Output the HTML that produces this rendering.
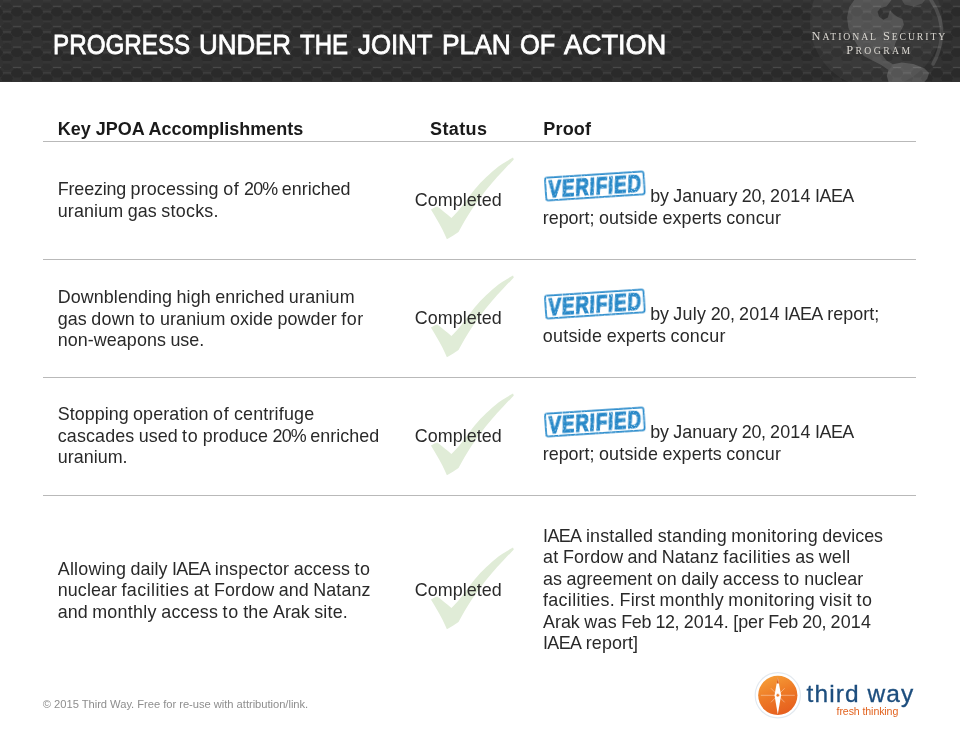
<!DOCTYPE html>
<html lang="en">
<head>
<meta charset="utf-8">
<title>Progress Under the Joint Plan of Action</title>
<style>
html,body{margin:0;padding:0;background:#fff;}
body{width:960px;height:741px;position:relative;overflow:hidden;font-family:"Liberation Sans",sans-serif;color:#222;}
.hdr{position:absolute;left:0;top:0;width:960px;height:82px;background:#2d2d2d;overflow:hidden;}
.hdr svg{position:absolute;left:0;top:0;}
.title{position:absolute;left:0;top:30.4px;font-size:28.2px;line-height:1;color:#fff;white-space:nowrap;-webkit-text-stroke:0.8px #fff;}
.title span{display:inline-block;white-space:pre;transform-origin:0 0;}
.nsp{position:absolute;color:#d9d6d0;font-family:"Liberation Serif",serif;white-space:nowrap;line-height:1;}
.l{position:absolute;white-space:nowrap;line-height:1;font-size:17.9px;color:#292929;}
.l.w span{display:inline-block;white-space:pre;}
.l.h{font-size:18px;font-weight:bold;color:#1a1a1a;}
.rule{position:absolute;left:43.2px;width:872.8px;height:1.4px;background:#b9b9b9;}
.check{position:absolute;left:0;width:960px;height:120px;}
.stamp{position:absolute;overflow:visible;}
.stamp text{font-family:"Liberation Sans",sans-serif;font-weight:bold;font-size:24.4px;fill:#2788c8;stroke:#2788c8;stroke-width:1.1px;letter-spacing:1.1px;}
.foot{position:absolute;left:42.8px;top:699.3px;font-size:11.2px;line-height:1;color:#8e8e8e;white-space:nowrap;letter-spacing:-0.035px;}
.tw{position:absolute;left:806.6px;top:681.8px;font-size:24.5px;line-height:1;color:#1d4e7e;white-space:nowrap;letter-spacing:1.07px;-webkit-text-stroke:0.3px #1d4e7e;}
.ft{position:absolute;left:836.6px;top:705.6px;font-size:10.6px;line-height:1;color:#e2631f;white-space:nowrap;letter-spacing:-0.1px;}
.logo{position:absolute;left:750px;top:668px;}
</style>
</head>
<body>
<div class="hdr">
<svg width="960" height="82" viewBox="0 0 960 82">
<defs>
<pattern id="hx" width="20" height="20.4" patternUnits="userSpaceOnUse">
<rect width="20" height="20.4" fill="#323232"/>
<ellipse cx="17" cy="12" rx="6" ry="4.6" fill="#2b2b2b"/>
<ellipse cx="-3" cy="12" rx="6" ry="4.6" fill="#2b2b2b"/>
<ellipse cx="7" cy="17.2" rx="6" ry="4.4" fill="#2b2b2b"/>
<ellipse cx="7" cy="5.6" rx="5" ry="3.4" fill="#2e2e2e"/>
<rect x="13" y="5.7" width="8" height="1" fill="#4b4b4b"/>
<rect x="-7" y="5.7" width="8" height="1" fill="#4b4b4b"/>
<rect x="3" y="11.1" width="8" height="1" fill="#464646"/>
<rect x="3" y="0.4" width="8" height="0.9" fill="#3d3d3d"/>
</pattern>
<filter id="gb" x="-10%" y="-10%" width="120%" height="120%"><feGaussianBlur stdDeviation="0.7"/></filter>
<filter id="bl" x="0" y="0" width="100%" height="100%" filterUnits="objectBoundingBox"><feGaussianBlur stdDeviation="0.7"/></filter>
</defs>
<rect x="-10" y="-10" width="980" height="110" fill="url(#hx)" filter="url(#bl)"/>
<g filter="url(#gb)">
<circle cx="876" cy="22" r="66" fill="#ffffff" fill-opacity="0.04"/>
<path d="M931 0 Q943 18 941.5 36 Q940 52 933 64" fill="none" stroke="#fff" stroke-opacity="0.13" stroke-width="3.5" stroke-linecap="round"/>
<polygon points="854.3,0.0 849.2,7.3 847.0,17.5 848.4,27.7 852.8,37.2 858.6,47.4 863.8,56.1 874.0,61.3 881.3,64.9 888.5,70.0 892.9,64.2 886.4,60.5 882.0,54.7 879.1,50.3 885.6,48.1 890.7,49.6 892.9,53.2 895.1,43.8 899.5,33.5 903.9,24.8 902.4,19.0 897.3,16.8 893.6,13.9 890.0,10.2 887.8,17.5 883.4,19.7 879.1,16.8 877.6,11.7 880.5,8.0 886.4,6.6 891.5,0.0" fill="#fff" fill-opacity="0.14"/>
<polygon points="888.5,70.0 892.9,64.2 901.7,62.4 913.3,63.9 924.3,68.3 929.1,72.9 927.2,78.8 924.3,82.0 888.5,82.0 886.8,75.8" fill="#fff" fill-opacity="0.17"/>
<polygon points="901.7,0.0 904.6,4.4 913.3,6.6 922.1,3.6 925.0,0.0" fill="#fff" fill-opacity="0.11"/>
</g>
</svg>
<div class="title" style="left:53.03px"><span style="width:145.94px;transform:scaleX(0.8588)">PROGRESS </span><span style="width:101.10px;transform:scaleX(0.9182)">UNDER </span><span style="width:57.85px;transform:scaleX(0.8518)">THE </span><span style="width:84.60px;transform:scaleX(0.9147)">JOINT </span><span style="width:77.09px;transform:scaleX(0.9356)">PLAN </span><span style="width:44.55px;transform:scaleX(0.9025)">OF </span><span style="width:120.00px;transform:scaleX(0.9593)">ACTION</span></div>
<div class="nsp" id="nsp1" style="left:811.6px;top:29.9px;font-size:12.4px;letter-spacing:1.92px;">N<span style="font-size:9.7px">ATIONAL</span> S<span style="font-size:9.7px">ECURITY</span></div>
<div class="nsp" id="nsp2" style="left:846.2px;top:44.1px;font-size:12.4px;letter-spacing:2.4px;">P<span style="font-size:9.7px">ROGRAM</span></div>
</div>
<div class="rule" style="top:140.6px"></div>
<div class="rule" style="top:258.6px"></div>
<div class="rule" style="top:376.6px"></div>
<div class="rule" style="top:494.6px"></div>
<svg class="check" style="top:0;height:741px" width="960" height="741" viewBox="0 0 960 741">
<defs><filter id="soft" x="-10%" y="-10%" width="120%" height="120%"><feGaussianBlur stdDeviation="0.45"/></filter><filter id="rough" x="-5%" y="-20%" width="110%" height="140%"><feTurbulence type="fractalNoise" baseFrequency="0.75" numOctaves="2" seed="7" result="n"/><feColorMatrix in="n" type="matrix" values="0 0 0 0 0  0 0 0 0 0  0 0 0 0 0  0 0 0 -3.2 2.92" result="m"/><feComposite in="SourceGraphic" in2="m" operator="in"/></filter></defs>
<path transform="translate(0,0)" d="M513.0 157.6 C509 160 505 162 502.1 164.1 C497 167.5 493 171 489.2 174.4 C485 178 481 182 477.7 185.9 C474 190 471 194 468.7 197.4 C465 202 462 206 459.7 209.0 C457 212.5 454 215.5 451.4 217.9 C447 214 442 210 437.3 206.4 C435 207 433 208.3 430.9 209.6 C433 213 435 216 436.7 219.2 C438.8 222.8 440.8 226.2 442.4 229.5 C444 232.8 445.6 236.2 446.9 239.3 C451 237 455 234.6 458.5 232.1 C460.5 228.6 462.4 225.2 464.2 221.8 C466.5 217.8 468.8 214 471.3 210.3 C474 206 477 201.6 480.3 197.4 C484 192.5 487.8 187.8 491.8 183.3 C495.5 179 499.3 174.7 503.3 170.5 C506.8 166.8 510.3 163.2 513.8 159.4 Z" fill="#e0ecd7" filter="url(#soft)"/>
<path transform="translate(0,118)" d="M513.0 157.6 C509 160 505 162 502.1 164.1 C497 167.5 493 171 489.2 174.4 C485 178 481 182 477.7 185.9 C474 190 471 194 468.7 197.4 C465 202 462 206 459.7 209.0 C457 212.5 454 215.5 451.4 217.9 C447 214 442 210 437.3 206.4 C435 207 433 208.3 430.9 209.6 C433 213 435 216 436.7 219.2 C438.8 222.8 440.8 226.2 442.4 229.5 C444 232.8 445.6 236.2 446.9 239.3 C451 237 455 234.6 458.5 232.1 C460.5 228.6 462.4 225.2 464.2 221.8 C466.5 217.8 468.8 214 471.3 210.3 C474 206 477 201.6 480.3 197.4 C484 192.5 487.8 187.8 491.8 183.3 C495.5 179 499.3 174.7 503.3 170.5 C506.8 166.8 510.3 163.2 513.8 159.4 Z" fill="#e0ecd7" filter="url(#soft)"/>
<path transform="translate(0,236)" d="M513.0 157.6 C509 160 505 162 502.1 164.1 C497 167.5 493 171 489.2 174.4 C485 178 481 182 477.7 185.9 C474 190 471 194 468.7 197.4 C465 202 462 206 459.7 209.0 C457 212.5 454 215.5 451.4 217.9 C447 214 442 210 437.3 206.4 C435 207 433 208.3 430.9 209.6 C433 213 435 216 436.7 219.2 C438.8 222.8 440.8 226.2 442.4 229.5 C444 232.8 445.6 236.2 446.9 239.3 C451 237 455 234.6 458.5 232.1 C460.5 228.6 462.4 225.2 464.2 221.8 C466.5 217.8 468.8 214 471.3 210.3 C474 206 477 201.6 480.3 197.4 C484 192.5 487.8 187.8 491.8 183.3 C495.5 179 499.3 174.7 503.3 170.5 C506.8 166.8 510.3 163.2 513.8 159.4 Z" fill="#e0ecd7" filter="url(#soft)"/>
<path transform="translate(0,390)" d="M513.0 157.6 C509 160 505 162 502.1 164.1 C497 167.5 493 171 489.2 174.4 C485 178 481 182 477.7 185.9 C474 190 471 194 468.7 197.4 C465 202 462 206 459.7 209.0 C457 212.5 454 215.5 451.4 217.9 C447 214 442 210 437.3 206.4 C435 207 433 208.3 430.9 209.6 C433 213 435 216 436.7 219.2 C438.8 222.8 440.8 226.2 442.4 229.5 C444 232.8 445.6 236.2 446.9 239.3 C451 237 455 234.6 458.5 232.1 C460.5 228.6 462.4 225.2 464.2 221.8 C466.5 217.8 468.8 214 471.3 210.3 C474 206 477 201.6 480.3 197.4 C484 192.5 487.8 187.8 491.8 183.3 C495.5 179 499.3 174.7 503.3 170.5 C506.8 166.8 510.3 163.2 513.8 159.4 Z" fill="#e0ecd7" filter="url(#soft)"/>
</svg>
<div class="l h" style="left:57.8px;top:120.1px;letter-spacing:-0.011px">Key JPOA Accomplishments</div>
<div class="l h" style="left:430.0px;top:120.1px;letter-spacing:0.377px">Status</div>
<div class="l h" style="left:543.2px;top:120.1px;letter-spacing:0.225px">Proof</div>
<div class="l w a" style="left:57.8px;top:181.3px"><span style="width:72.72px;letter-spacing:-0.167px">Freezing </span><span style="width:92.61px;letter-spacing:0.163px">processing </span><span style="width:20.92px;letter-spacing:0.777px">of </span><span style="width:37.77px;letter-spacing:-0.831px">20% </span><span style="width:68.79px;letter-spacing:0.018px">enriched</span></div>
<div class="l w a" style="left:57.8px;top:202.7px"><span style="width:69.92px;letter-spacing:0.121px">uranium </span><span style="width:33.47px;letter-spacing:0.057px">gas </span><span style="width:57.71px;letter-spacing:0.289px">stocks.</span></div>
<div class="l w a" style="left:57.8px;top:289.2px"><span style="width:118.69px;letter-spacing:0.070px">Downblending </span><span style="width:38.83px;letter-spacing:0.133px">high </span><span style="width:73.55px;letter-spacing:0.056px">enriched </span><span style="width:65.93px;letter-spacing:0.185px">uranium</span></div>
<div class="l w a" style="left:57.8px;top:310.6px"><span style="width:33.49px;letter-spacing:0.065px">gas </span><span style="width:48.13px;letter-spacing:0.227px">down </span><span style="width:20.52px;letter-spacing:0.579px">to </span><span style="width:69.98px;letter-spacing:0.129px">uranium </span><span style="width:47.51px;letter-spacing:0.058px">oxide </span><span style="width:63.86px;letter-spacing:0.122px">powder </span><span style="width:22.51px;letter-spacing:0.541px">for</span></div>
<div class="l w a" style="left:57.8px;top:332.0px"><span style="width:112.63px;letter-spacing:0.064px">non-weapons </span><span style="width:33.67px;letter-spacing:-0.039px">use.</span></div>
<div class="l w a" style="left:57.8px;top:406.3px"><span style="width:75.27px;letter-spacing:0.026px">Stopping </span><span style="width:80.04px;letter-spacing:0.112px">operation </span><span style="width:20.80px;letter-spacing:0.730px">of </span><span style="width:80.39px;letter-spacing:0.181px">centrifuge</span></div>
<div class="l w a" style="left:57.8px;top:427.7px"><span style="width:81.02px;letter-spacing:0.122px">cascades </span><span style="width:43.29px;letter-spacing:0.011px">used </span><span style="width:20.57px;letter-spacing:0.601px">to </span><span style="width:69.85px;letter-spacing:0.106px">produce </span><span style="width:37.80px;letter-spacing:-0.820px">20% </span><span style="width:68.86px;letter-spacing:0.027px">enriched</span></div>
<div class="l w a" style="left:57.8px;top:449.1px"><span style="width:69.80px;letter-spacing:0.024px">uranium.</span></div>
<div class="l w a" style="left:57.8px;top:561.0px"><span style="width:72.72px;letter-spacing:0.206px">Allowing </span><span style="width:41.43px;letter-spacing:0.039px">daily </span><span style="width:42.83px;letter-spacing:-0.595px">IAEA </span><span style="width:78.90px;letter-spacing:0.208px">inspector </span><span style="width:60.86px;letter-spacing:0.123px">access </span><span style="width:16.06px;letter-spacing:0.568px">to</span></div>
<div class="l w a" style="left:57.8px;top:582.4px"><span style="width:63.70px;letter-spacing:0.078px">nuclear </span><span style="width:72.29px;letter-spacing:0.419px">facilities </span><span style="width:20.18px;letter-spacing:0.397px">at </span><span style="width:64.88px;letter-spacing:0.126px">Fordow </span><span style="width:34.43px;letter-spacing:0.033px">and </span><span style="width:57.31px;letter-spacing:0.104px">Natanz</span></div>
<div class="l w a" style="left:57.8px;top:603.8px"><span style="width:34.36px;letter-spacing:0.014px">and </span><span style="width:69.17px;letter-spacing:0.294px">monthly </span><span style="width:61.25px;letter-spacing:0.183px">access </span><span style="width:20.62px;letter-spacing:0.620px">to </span><span style="width:29.81px;letter-spacing:0.160px">the </span><span style="width:41.24px;letter-spacing:-0.004px">Arak </span><span style="width:33.84px;letter-spacing:0.205px">site.</span></div>
<div class="l w s" style="left:414.8px;top:191.8px"><span style="width:87.00px;letter-spacing:0.052px">Completed</span></div>
<div class="l w s" style="left:414.8px;top:309.8px"><span style="width:87.00px;letter-spacing:0.052px">Completed</span></div>
<div class="l w s" style="left:414.8px;top:427.8px"><span style="width:87.00px;letter-spacing:0.052px">Completed</span></div>
<div class="l w s" style="left:414.8px;top:581.8px"><span style="width:87.00px;letter-spacing:0.052px">Completed</span></div>
<div class="l w p" style="left:650.2px;top:188.0px"><span style="width:23.12px;letter-spacing:-0.127px">by </span><span style="width:68.57px;letter-spacing:0.063px">January </span><span style="width:28.26px;letter-spacing:-0.360px">20, </span><span style="width:44.97px;letter-spacing:0.174px">2014 </span><span style="width:38.69px;letter-spacing:-0.524px">IAEA</span></div>
<div class="l w p" style="left:542.8px;top:209.7px"><span style="width:56.08px;letter-spacing:-0.012px">report; </span><span style="width:63.69px;letter-spacing:0.220px">outside </span><span style="width:63.63px;letter-spacing:0.073px">experts </span><span style="width:54.91px;letter-spacing:0.200px">concur</span></div>
<div class="l w p" style="left:650.2px;top:306.0px"><span style="width:23.16px;letter-spacing:-0.109px">by </span><span style="width:37.34px;letter-spacing:0.260px">July </span><span style="width:28.32px;letter-spacing:-0.344px">20, </span><span style="width:45.06px;letter-spacing:0.194px">2014 </span><span style="width:43.24px;letter-spacing:-0.505px">IAEA </span><span style="width:51.98px;letter-spacing:0.037px">report;</span></div>
<div class="l w p" style="left:542.8px;top:327.7px"><span style="width:63.89px;letter-spacing:0.247px">outside </span><span style="width:63.83px;letter-spacing:0.100px">experts </span><span style="width:55.08px;letter-spacing:0.229px">concur</span></div>
<div class="l w p" style="left:650.2px;top:424.0px"><span style="width:23.12px;letter-spacing:-0.127px">by </span><span style="width:68.57px;letter-spacing:0.063px">January </span><span style="width:28.26px;letter-spacing:-0.360px">20, </span><span style="width:44.97px;letter-spacing:0.174px">2014 </span><span style="width:38.69px;letter-spacing:-0.524px">IAEA</span></div>
<div class="l w p" style="left:542.8px;top:445.7px"><span style="width:56.08px;letter-spacing:-0.012px">report; </span><span style="width:63.69px;letter-spacing:0.220px">outside </span><span style="width:63.63px;letter-spacing:0.073px">experts </span><span style="width:54.91px;letter-spacing:0.200px">concur</span></div>
<div class="l w p" style="left:543.0px;top:527.7px"><span style="width:42.89px;letter-spacing:-0.583px">IAEA </span><span style="width:71.83px;letter-spacing:0.195px">installed </span><span style="width:73.58px;letter-spacing:0.188px">standing </span><span style="width:91.05px;letter-spacing:0.308px">monitoring </span><span style="width:60.76px;letter-spacing:0.012px">devices</span></div>
<div class="l w p" style="left:543.0px;top:549.2px"><span style="width:20.08px;letter-spacing:0.355px">at </span><span style="width:64.54px;letter-spacing:0.073px">Fordow </span><span style="width:34.25px;letter-spacing:-0.020px">and </span><span style="width:61.45px;letter-spacing:0.053px">Natanz </span><span style="width:71.91px;letter-spacing:0.382px">facilities </span><span style="width:23.47px;letter-spacing:0.059px">as </span><span style="width:31.71px;letter-spacing:0.221px">well</span></div>
<div class="l w p" style="left:543.0px;top:570.7px"><span style="width:23.45px;letter-spacing:0.050px">as </span><span style="width:90.32px;letter-spacing:0.038px">agreement </span><span style="width:24.57px;letter-spacing:0.110px">on </span><span style="width:41.51px;letter-spacing:0.054px">daily </span><span style="width:60.98px;letter-spacing:0.141px">access </span><span style="width:20.53px;letter-spacing:0.584px">to </span><span style="width:58.86px;letter-spacing:0.024px">nuclear</span></div>
<div class="l w p" style="left:543.0px;top:592.2px"><span style="width:76.59px;letter-spacing:0.322px">facilities. </span><span style="width:39.90px;letter-spacing:0.136px">First </span><span style="width:68.90px;letter-spacing:0.257px">monthly </span><span style="width:91.15px;letter-spacing:0.318px">monitoring </span><span style="width:36.96px;letter-spacing:0.341px">visit </span><span style="width:16.10px;letter-spacing:0.587px">to</span></div>
<div class="l w p" style="left:543.0px;top:613.7px"><span style="width:41.25px;letter-spacing:-0.002px">Arak </span><span style="width:37.09px;letter-spacing:0.266px">was </span><span style="width:34.08px;letter-spacing:-0.409px">Feb </span><span style="width:28.23px;letter-spacing:-0.367px">12, </span><span style="width:49.68px;letter-spacing:0.087px">2014. </span><span style="width:34.99px;letter-spacing:-0.078px">[per </span><span style="width:34.08px;letter-spacing:-0.409px">Feb </span><span style="width:28.23px;letter-spacing:-0.367px">20, </span><span style="width:40.47px;letter-spacing:0.165px">2014</span></div>
<div class="l w p" style="left:543.0px;top:635.2px"><span style="width:42.80px;letter-spacing:-0.603px">IAEA </span><span style="width:52.40px;letter-spacing:0.098px">report]</span></div>
<svg class="stamp" style="left:530px;top:160px" width="130" height="55" viewBox="530 160 130 55"><g transform="translate(544.9,177.7) rotate(-3.7)" filter="url(#rough)"><rect x="0" y="0" width="98.6" height="22.8" rx="2" fill="none" stroke="#2b8ccc" stroke-width="1.75"/><text transform="translate(48.9,20.1) scale(0.772,1) skewX(-7)" text-anchor="middle" x="0" y="0">VERIFIED</text></g></svg>
<svg class="stamp" style="left:530px;top:278px" width="130" height="55" viewBox="530 160 130 55"><g transform="translate(544.9,177.7) rotate(-3.7)" filter="url(#rough)"><rect x="0" y="0" width="98.6" height="22.8" rx="2" fill="none" stroke="#2b8ccc" stroke-width="1.75"/><text transform="translate(48.9,20.1) scale(0.772,1) skewX(-7)" text-anchor="middle" x="0" y="0">VERIFIED</text></g></svg>
<svg class="stamp" style="left:530px;top:396px" width="130" height="55" viewBox="530 160 130 55"><g transform="translate(544.9,177.7) rotate(-3.7)" filter="url(#rough)"><rect x="0" y="0" width="98.6" height="22.8" rx="2" fill="none" stroke="#2b8ccc" stroke-width="1.75"/><text transform="translate(48.9,20.1) scale(0.772,1) skewX(-7)" text-anchor="middle" x="0" y="0">VERIFIED</text></g></svg>
<svg class="logo" width="60" height="60" viewBox="750 668 60 60">
<defs>
<linearGradient id="og" x1="0.2" y1="0" x2="0.6" y2="1"><stop offset="0" stop-color="#f6a03a"/><stop offset="0.5" stop-color="#ee7a26"/><stop offset="1" stop-color="#e65f1e"/></linearGradient>
</defs>
<circle cx="777.8" cy="695.3" r="22.6" fill="#fff" stroke="#e3e9ef" stroke-width="1.2"/>
<circle cx="777.8" cy="695.3" r="19.6" fill="url(#og)"/>
<g stroke="#fff" stroke-opacity="0.55" stroke-width="0.7">
<line x1="760.8" y1="695.3" x2="794.8" y2="695.3"/>
<line x1="771" y1="688.3" x2="784.6" y2="702.3"/>
<line x1="771" y1="702.3" x2="784.6" y2="688.3"/>
</g>
<path d="M777.8 677.2 L781.1 695.3 L777.8 714.4 L774.5 695.3 Z" fill="#fff"/>
<path d="M777.8 677.2 L778.9 683.6 L776.7 683.6 Z" fill="#d9601c"/>
<circle cx="777.8" cy="695.3" r="1.7" fill="#ee7a26" stroke="#fff" stroke-width="0.6"/>
</svg>
<div class="foot">© 2015 Third Way. Free for re-use with attribution/link.</div>
<div class="tw">third way</div>
<div class="ft">fresh thinking</div>
</body>
</html>
